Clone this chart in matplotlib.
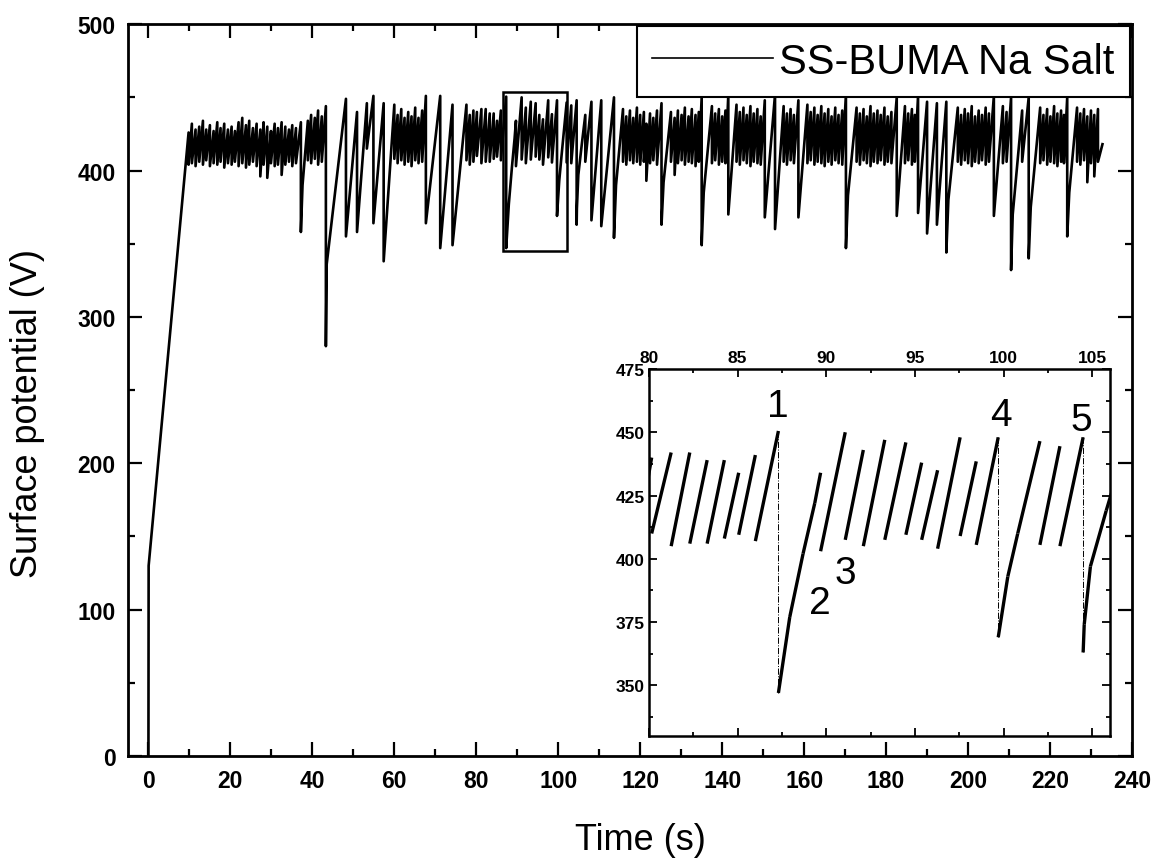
import numpy as np
import matplotlib.pyplot as plt
from matplotlib.patches import Rectangle
from matplotlib.ticker import MultipleLocator

plt.rcParams['font.family'] = ['Liberation Sans', 'DejaVu Sans']

# charging ramp before the first discharge
ramp_t = [0.0, 0.05]
ramp_v = [0, 130]

# every discharge: time (s), potential just before, potential just after (V)
drop_t = [9.8, 10.6, 11.5, 12.4, 13.3, 14.1, 15.0, 15.9, 16.8, 17.6, 18.5, 19.4, 20.3, 21.1,
          22.0, 22.9, 23.8, 24.6, 25.5, 26.4, 27.3, 28.1, 29.0, 29.9, 30.8, 31.6, 32.5, 33.4,
          34.3, 35.1, 36.0, 37.2,
          38.9, 39.7, 40.6, 41.4, 42.3, 43.3, 48.2, 50.9, 53.3, 54.9, 57.4,
          60.0, 60.8, 61.7, 62.5, 63.4, 64.2, 65.1, 65.9, 66.8, 67.7, 71.2, 74.2,
          77.6, 78.4, 79.3,
          80.15, 81.25, 82.3, 83.28, 84.25, 85.06, 86.0, 87.3, 89.68, 91.07, 92.09, 93.3,
          94.49, 95.38, 96.28, 97.55, 98.46, 99.7, 102.05, 103.18, 104.49,
          106.6, 108.1, 110.5, 113.6,
          115.8, 116.6, 117.5, 118.3, 119.2, 120.0, 120.9, 121.5, 122.4, 123.2, 124.1, 125.2,
          127.5, 128.4, 129.2, 130.1, 130.9, 131.8, 132.6, 133.5, 134.3, 135.0,
          137.5, 138.3, 139.2, 140.0, 140.8, 141.5,
          143.5, 144.3, 145.2, 146.0, 146.9, 147.7, 148.6, 149.4, 150.4, 152.9,
          155.0, 155.8, 156.7, 157.5, 158.6,
          160.8, 161.6, 162.5, 163.3, 164.2, 165.0, 165.9, 166.7, 167.6, 168.4, 169.3, 170.2,
          172.8, 173.6, 174.5, 175.3, 176.2, 177.0, 177.9, 178.7, 179.6, 180.4, 181.3, 182.6,
          184.6, 185.4, 186.3, 187.0, 187.8, 190.0, 192.4, 194.7,
          197.5, 198.3, 199.2, 200.0, 200.9, 201.7, 202.6, 203.4, 204.3, 205.1, 206.3,
          208.5, 209.4, 210.5, 213.2, 214.8,
          217.6, 218.4, 219.3, 220.1, 221.0, 221.8, 222.7, 223.4, 224.2,
          226.6, 227.4, 228.3, 229.1, 230.0, 230.8, 231.7]
drop_hi = [426, 432, 428, 430, 434, 428, 431, 427, 433, 429, 432, 428, 430, 427,
           433, 436, 431, 434, 429, 432, 428, 433, 430, 427, 432, 429, 433, 430,
           428, 431, 429, 433,
           434, 438, 436, 441, 437, 444, 449, 440, 446, 451, 446,
           445, 438, 442, 436, 440, 437, 443, 436, 441, 451, 451, 445,
           445, 438, 441,
           440, 442, 442, 439, 439, 434, 441, 450.5, 434, 450, 443, 447,
           446, 438, 435, 448, 438.5, 448, 446.5, 444.5, 448,
           438, 447, 448, 450,
           442, 437, 441, 436, 443, 438, 440, 432, 439, 436, 441, 446,
           440, 436, 441, 438, 443, 437, 442, 438, 440, 450,
           444, 439, 442, 437, 441, 452,
           445, 440, 443, 438, 444, 439, 442, 437, 448, 452,
           444, 439, 442, 438, 448,
           445, 440, 443, 438, 444, 439, 442, 437, 443, 438, 441, 452,
           443, 439, 442, 437, 444, 439, 441, 438, 443, 437, 440, 450,
           444, 439, 442, 438, 451, 447, 446, 447,
           443, 438, 442, 439, 444, 437, 441, 438, 443, 439, 451,
           444, 440, 450, 441, 450,
           443, 438, 442, 437, 444, 439, 441, 438, 450,
           443, 439, 442, 437, 441, 438, 442]
drop_lo = [404, 405, 403, 406, 404, 407, 403, 405, 404, 406, 402, 405, 404, 406,
           403, 405, 402, 404, 406, 403, 396, 404, 395, 405, 403, 404, 397, 404,
           406, 403, 405, 358,
           407, 405, 408, 404, 406, 280, 355, 358, 415, 364, 338,
           408, 405, 407, 404, 406, 403, 407, 405, 406, 364, 347, 349,
           407, 404, 406,
           410, 405, 406, 406, 408, 409.5, 407, 347, 403, 407.5, 405, 407.5,
           409.5, 407.5, 404, 409, 405.5, 369, 405.5, 405, 363,
           406, 366, 362, 354,
           406, 404, 407, 405, 406, 404, 406, 393, 405, 407, 404, 363,
           406, 397, 405, 407, 404, 406, 405, 403, 406, 349,
           405, 407, 404, 406, 405, 370,
           406, 404, 407, 405, 403, 406, 405, 404, 368, 360,
           406, 404, 407, 405, 368,
           405, 407, 404, 406, 405, 403, 406, 404, 407, 405, 404, 347,
           406, 404, 407, 405, 403, 406, 405, 407, 404, 406, 405, 369,
           405, 407, 404, 406, 371, 357, 363, 344,
           406, 404, 407, 405, 403, 406, 405, 407, 404, 406, 369,
           405, 406, 332, 406, 340,
           405, 407, 404, 406, 405, 403, 406, 405, 355,
           406, 404, 407, 392, 405, 396, 406]

# extra points on the slower, curved recoveries after large discharges
bend_t = [37.6, 43.5, 87.94, 88.69, 89.35, 100.24, 100.8, 104.55, 104.9, 105.79,
          114.1, 125.7, 135.5, 170.7, 195.2, 210.9, 215.3, 224.7]
bend_v = [390, 336, 377, 402, 422, 393, 410, 374, 397, 419,
          390, 392, 385, 383, 380, 370, 375, 385]

end_t, end_v = 232.8, 418

# inset annotations
mark_txt = ['1', '2', '3', '4', '5']
mark_t = [87.27, 89.63, 91.1, 99.87, 104.38]
mark_v = [460.4, 382.4, 394.3, 457.0, 455.0]

# build the trace from the points above
pts = [(t, -1, v) for t, v in zip(ramp_t, ramp_v)]
for t, hi, lo in zip(drop_t, drop_hi, drop_lo):
    pts.append((t, 0, hi))
    pts.append((t, 1, lo))
for t, v in zip(bend_t, bend_v):
    pts.append((t, 0, v))
pts.append((end_t, 0, end_v))
pts.sort(key=lambda p: (p[0], p[1]))
trace_t = np.array([p[0] for p in pts])
trace_v = np.array([p[2] for p in pts])

fig = plt.figure(figsize=(11.61, 8.62), dpi=100)
ax = fig.add_axes([0.1102, 0.1218, 0.8648, 0.849])

ax.plot(trace_t, trace_v, color='k', lw=1.9, label='SS-BUMA Na Salt')
ax.add_patch(Rectangle((86.5, 345), 15.7, 108.7, fill=False, ec='k', lw=1.8, zorder=3))

ax.set_xlim(-5, 240)
ax.set_ylim(0, 500)
ax.xaxis.set_major_locator(MultipleLocator(20))
ax.xaxis.set_minor_locator(MultipleLocator(10))
ax.yaxis.set_major_locator(MultipleLocator(100))
ax.yaxis.set_minor_locator(MultipleLocator(50))
ax.tick_params(which='both', direction='in', top=True, right=True, width=1.6)
ax.tick_params(which='major', length=10, labelsize=16.5, pad=9)
ax.tick_params(which='minor', length=5)
for lab in ax.get_xticklabels() + ax.get_yticklabels():
    lab.set_fontweight('bold')
for s in ax.spines.values():
    s.set_linewidth(2)
ax.set_xlabel('Time (s)', fontsize=26)
ax.set_ylabel('Surface potential (V)', fontsize=26)
ax.xaxis.set_label_coords(0.51, -0.09)
ax.yaxis.set_label_coords(-0.083, 0.47)

leg = ax.legend(loc='upper right', fontsize=30, frameon=True, fancybox=False,
                edgecolor='k', framealpha=1, handlelength=2.9, handletextpad=0.15,
                borderpad=0.37, borderaxespad=0.05)
leg.get_frame().set_linewidth(1.5)
leg.get_lines()[0].set_linewidth(1.2)

# inset: zoom of 80-106 s
axi = fig.add_axes([0.559, 0.145, 0.397, 0.4258])
for i in range(len(trace_t) - 1):
    t0, t1 = trace_t[i], trace_t[i + 1]
    v0, v1 = trace_v[i], trace_v[i + 1]
    if t1 < 79 or t0 > 107:
        continue
    if v1 >= v0:
        axi.plot([t0, t1], [v0, v1], color='k', lw=2.4, solid_capstyle='butt')
    elif v0 - v1 > 50:
        axi.plot([t0, t1], [v0, v1], color='k', lw=0.7, ls='-.')
for txt, t, v in zip(mark_txt, mark_t, mark_v):
    axi.text(t, v, txt, fontsize=28, ha='center', va='center')

axi.set_xlim(80, 106)
axi.set_ylim(330, 475)
axi.xaxis.set_major_locator(MultipleLocator(5))
axi.xaxis.set_minor_locator(MultipleLocator(2.5))
axi.yaxis.set_major_locator(MultipleLocator(25))
axi.yaxis.set_minor_locator(MultipleLocator(12.5))
axi.tick_params(which='both', direction='in', top=True, right=True, bottom=True,
                labeltop=True, labelbottom=False, width=1.3)
axi.tick_params(which='major', length=6, labelsize=12.5, pad=3)
axi.tick_params(which='minor', length=3)
for lab in axi.get_xticklabels() + axi.get_yticklabels():
    lab.set_fontweight('bold')
for s in axi.spines.values():
    s.set_linewidth(1.8)

fig.savefig('out.png', dpi=100)
